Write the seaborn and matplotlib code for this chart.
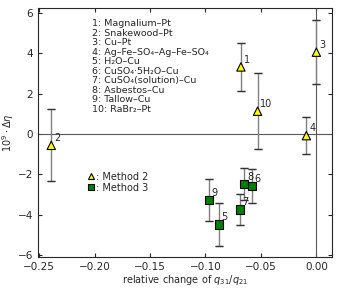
import numpy as np
import pandas as pd
import matplotlib
matplotlib.use("Agg")
import matplotlib.pyplot as plt
import seaborn as sns

# data
m2_ids = [1, 2, 3, 4, 10]
m2_x = [-0.068, -0.239, 0.000, -0.009, -0.053]
m2_y = [3.32, -0.56, 4.05, -0.08, 1.13]
m2_err = [1.20, 1.78, 1.58, 0.92, 1.88]

m3_ids = [5, 6, 7, 8, 9]
m3_x = [-0.088, -0.058, -0.069, -0.065, -0.097]
m3_y = [-4.48, -2.58, -3.74, -2.47, -3.27]
m3_err = [1.08, 0.85, 0.78, 0.80, 1.05]

names = ["Magnalium–Pt", "Snakewood–Pt", "Cu–Pt", "Ag–Fe–SO₄–Ag–Fe–SO₄",
         "H₂O–Cu", "CuSO₄·5H₂O–Cu", "CuSO₄(solution)–Cu", "Asbestos–Cu",
         "Tallow–Cu", "RaBr₂–Pt"]

df = pd.concat([
    pd.DataFrame({"id": m2_ids, "x": m2_x, "y": m2_y, "err": m2_err, "method": "Method 2"}),
    pd.DataFrame({"id": m3_ids, "x": m3_x, "y": m3_y, "err": m3_err, "method": "Method 3"}),
])

sns.set_style("ticks")
plt.rcParams["font.family"] = ["DejaVu Sans"]
plt.rcParams["xtick.direction"] = "in"
plt.rcParams["ytick.direction"] = "in"
plt.rcParams["xtick.top"] = True
plt.rcParams["ytick.right"] = True

fig = plt.figure(figsize=(3.39, 2.90), dpi=100)
ax = fig.add_axes([0.112, 0.114, 0.867, 0.858])

ax.axhline(0, color="0.35", lw=0.8, zorder=1)
ax.axvline(0, color="0.35", lw=0.8, zorder=1)

ax.errorbar(df["x"], df["y"], yerr=df["err"], fmt="none", ecolor="0.5",
            elinewidth=1.0, capsize=3, capthick=1.0, zorder=2)
# dark caps
ax.errorbar(df["x"], df["y"], yerr=df["err"], fmt="none", ecolor="0.2",
            elinewidth=0, capsize=3, capthick=0.9, zorder=2)

sns.scatterplot(data=df, x="x", y="y", hue="method", style="method",
                palette={"Method 2": "yellow", "Method 3": "green"},
                markers={"Method 2": "^", "Method 3": "s"},
                s=36, edgecolor="black", linewidth=0.8, ax=ax, zorder=3)

for i, x, y in zip(df["id"], df["x"], df["y"]):
    ax.annotate(str(i), (x, y), xytext=(2, 3), textcoords="offset points",
                fontsize=7)

ax.text(0.183, 0.955, "\n".join(f"{k}: {n}" for k, n in enumerate(names, 1)),
        transform=ax.transAxes, fontsize=6.8, va="top", ha="left", linespacing=1.07)

h, l = ax.get_legend_handles_labels()
ax.legend(h, [": " + t for t in l], loc="upper left", bbox_to_anchor=(0.14, 0.37),
          frameon=False, fontsize=7, handletextpad=0.0, labelspacing=0.1,
          handlelength=1.0, borderpad=0.2, markerscale=0.8)

ax.set_xlim(-0.251, 0.014)
ax.set_ylim(-6.08, 6.23)
ax.set_xticks([-0.25, -0.20, -0.15, -0.10, -0.05, 0.00])
ax.set_yticks([-6, -4, -2, 0, 2, 4, 6])
ax.tick_params(labelsize=7.5, length=3, width=0.8)
for s in ax.spines.values():
    s.set_linewidth(0.8)
ax.set_xlabel("relative change of $q_{31}/q_{21}$", fontsize=7, labelpad=1)
ax.set_ylabel(r"$10^9 \cdot \Delta\eta$", fontsize=7, labelpad=1)

fig.savefig("out.png", dpi=100)
